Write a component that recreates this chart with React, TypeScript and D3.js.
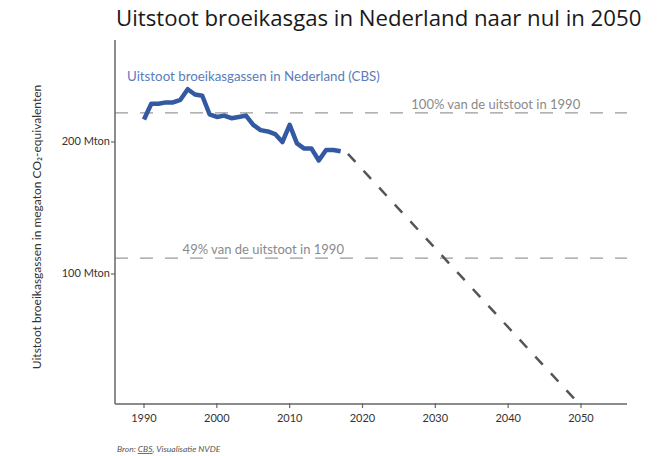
import React from "react";
import * as d3 from "d3";

// Uitstoot broeikasgassen (Mton CO2-eq)
const years = [
  1990, 1991, 1992, 1993, 1994, 1995, 1996, 1997, 1998, 1999, 2000, 2001, 2002, 2003,
  2004, 2005, 2006, 2007, 2008, 2009, 2010, 2011, 2012, 2013, 2014, 2015, 2016, 2017,
];
const emissions = [
  217, 229, 229, 230, 230, 232, 240, 236, 235, 221, 219, 220, 218, 219,
  220, 213, 209, 208, 206, 200, 213, 199, 195, 195, 186, 194, 194, 193,
];

// Pad naar nul in 2050
const pathYears = [2018, 2050];
const pathValues = [191, 0];

// Referentielijnen
const refValues = [222, 112];
const refLabels = ["100% van de uitstoot in 1990", "49% van de uitstoot in 1990"];
const refLabelYears = [2026.7, 1995.3];

const xTicks = [1990, 2000, 2010, 2020, 2030, 2040, 2050];
const yTicks = [100, 200];
const yTickLabels = ["100 Mton", "200 Mton"];

const W = 661;
const H = 456;
const font = "Lato, 'Open Sans', sans-serif";

export default function App() {
  const x = d3.scaleLinear().domain([1990, 2050]).range([144, 581]);
  const y = d3.scaleLinear().domain([0, 200]).range([406, 142]);

  const axisLeft = 115;
  const axisBottom = 404;
  const axisRight = 627;
  const axisTop = 40;

  const line = d3
    .line<number>()
    .x((_, i) => x(years[i]))
    .y((d) => y(d));

  const projLine = d3
    .line<number>()
    .x((_, i) => x(pathYears[i]))
    .y((d) => y(d));

  return (
    <svg
      width={W}
      height={H}
      style={{ position: "absolute", left: 0, top: 0, background: "#fff" }}
      fontFamily={font}
    >
      <text x={116} y={26} fontSize={22.2} fill="#1a1a1a" fontFamily="'Open Sans', sans-serif">
        Uitstoot broeikasgas in Nederland naar nul in 2050
      </text>

      {/* reference lines */}
      {refValues.map((v, i) => (
        <g key={i}>
          <line
            x1={axisLeft}
            x2={axisRight}
            y1={y(v)}
            y2={y(v)}
            stroke="#9a9a9a"
            strokeWidth={1.2}
            strokeDasharray="13 12"
          />
          <text x={x(refLabelYears[i])} y={y(v) - 4} fontSize={13} fill="#8a8a8a">
            {refLabels[i]}
          </text>
        </g>
      ))}

      {/* axes */}
      <line x1={axisLeft} x2={axisLeft} y1={axisTop} y2={axisBottom} stroke="#666" strokeWidth={1.5} />
      <line x1={axisLeft} x2={axisRight} y1={axisBottom} y2={axisBottom} stroke="#666" strokeWidth={1.5} />

      {yTicks.map((t, i) => (
        <g key={t}>
          <line x1={axisLeft - 4} x2={axisLeft} y1={y(t)} y2={y(t)} stroke="#666" strokeWidth={1.2} />
          <text
            x={axisLeft - 5}
            y={y(t)}
            fontSize={11}
            fill="#333"
            textAnchor="end"
            dominantBaseline="middle"
          >
            {yTickLabels[i]}
          </text>
        </g>
      ))}

      {xTicks.map((t) => (
        <g key={t}>
          <line x1={x(t)} x2={x(t)} y1={axisBottom - 1} y2={axisBottom + 4} stroke="#666" strokeWidth={1.2} />
          <text x={x(t)} y={422} fontSize={11} fill="#333" textAnchor="middle">
            {t}
          </text>
        </g>
      ))}

      <text
        transform={`translate(38,227) rotate(-90)`}
        fontSize={12}
        fill="#333"
        textAnchor="middle"
        dominantBaseline="middle"
      >
        Uitstoot broeikasgassen in megaton CO₂-equivalenten
      </text>

      {/* projection */}
      <path
        d={projLine(pathValues) ?? ""}
        fill="none"
        stroke="#555"
        strokeWidth={2.5}
        strokeDasharray="11 12"
      />

      {/* series */}
      <path
        d={line(emissions) ?? ""}
        fill="none"
        stroke="#3359a3"
        strokeWidth={4.5}
        strokeLinejoin="round"
      />
      <text x={127} y={81} fontSize={13.3} fill="#5a7cbd">
        Uitstoot broeikasgassen in Nederland (CBS)
      </text>

      <text x={117} y={452} fontSize={8.5} fontStyle="italic" fill="#555">
        Bron: <tspan textDecoration="underline">CBS</tspan>, Visualisatie NVDE
      </text>
    </svg>
  );
}
